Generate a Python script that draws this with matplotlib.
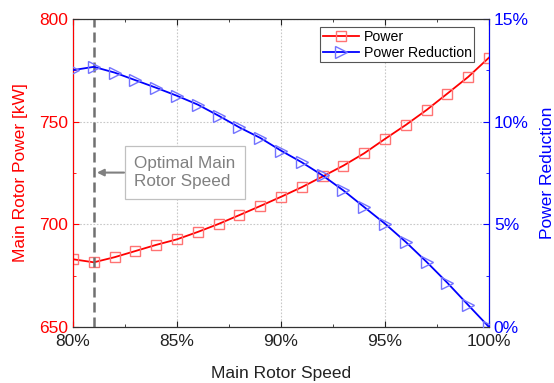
import matplotlib.pyplot as plt
from matplotlib.ticker import MultipleLocator, FuncFormatter

plt.rcParams['font.family'] = ['Liberation Sans', 'DejaVu Sans']

SPEED = list(range(80, 101))
POWER = [683.0, 681.5, 684.0, 687.0, 690.0, 692.7, 696.3, 700.2, 704.5, 708.9,
         713.4, 718.1, 723.3, 728.6, 734.6, 741.6, 748.4, 755.7, 763.7, 771.8, 781.2]
REDUCTION = [12.51, 12.67, 12.39, 12.02, 11.65, 11.26, 10.83, 10.29, 9.72, 9.21,
             8.59, 8.02, 7.38, 6.65, 5.84, 5.03, 4.14, 3.17, 2.15, 1.07, 0.0]
OPTIMAL = 81

RED = '#ff0000'
BLUE = '#0000ff'
FS = 12.5


def pct(v, _):
    return '%d%%' % v


fig = plt.figure(figsize=(5.54, 3.83), dpi=100)
ax = fig.add_axes([73 / 554, 1 - 327 / 383, 416 / 554, 308 / 383])
ax2 = ax.twinx()

l1, = ax.plot(SPEED, POWER, color=RED, lw=1.3, marker='s', ms=7,
              mfc='none', mec=(1, 0.45, 0.45), mew=1.0, label='Power', zorder=3)
l2, = ax2.plot(SPEED, REDUCTION, color=BLUE, lw=1.3, marker='>', ms=8,
               mfc='none', mec=(0.45, 0.45, 1), mew=1.0, label='Power Reduction', zorder=3)

ax.axvline(OPTIMAL, color='#707070', lw=1.8, ls=(0, (4, 2)), zorder=4)

ax.set_xlim(80, 100)
ax.set_ylim(650, 800)
ax2.set_ylim(0, 15)

ax.xaxis.set_major_locator(MultipleLocator(5))
ax.xaxis.set_minor_locator(MultipleLocator(2.5))
ax.xaxis.set_major_formatter(FuncFormatter(pct))
ax.yaxis.set_major_locator(MultipleLocator(50))
ax.yaxis.set_minor_locator(MultipleLocator(25))
ax2.yaxis.set_major_locator(MultipleLocator(5))
ax2.yaxis.set_minor_locator(MultipleLocator(2.5))
ax2.yaxis.set_major_formatter(FuncFormatter(pct))

ax.grid(True, which='major', color='#c8c8c8', ls=(0, (1.5, 1.5)), lw=0.8)

ax.tick_params(axis='x', which='both', direction='in', top=True, colors='#222222',
               labelsize=FS, pad=5)
ax.tick_params(axis='x', which='major', length=4)
ax.tick_params(axis='x', which='minor', length=2.5)
ax.tick_params(axis='y', which='both', direction='in', colors=RED, labelsize=FS)
ax.tick_params(axis='y', which='major', length=4)
ax.tick_params(axis='y', which='minor', length=2.5)
ax2.tick_params(axis='y', which='both', direction='in', colors=BLUE, labelsize=FS)
ax2.tick_params(axis='y', which='major', length=4)
ax2.tick_params(axis='y', which='minor', length=2.5)

ax2.spines['left'].set_color(RED)
ax2.spines['right'].set_color(BLUE)
ax2.spines['top'].set_color('#333333')
ax2.spines['bottom'].set_color('#333333')

ax.set_xlabel('Main Rotor Speed', fontsize=FS, color='#222222', labelpad=12)
ax.set_ylabel('Main Rotor Power [kW]', fontsize=FS, color=RED, labelpad=8)
ax2.set_ylabel('Power Reduction', fontsize=FS, color=BLUE, labelpad=8)

ax.annotate('Optimal Main\nRotor Speed', xy=(OPTIMAL + 0.15, 725.2), xytext=(82.93, 725.2),
            fontsize=12.3, color='#808080', va='center', ha='left', linespacing=1.3,
            bbox=dict(boxstyle='square,pad=0.55', fc='white', ec='#c0c0c0', lw=0.9),
            arrowprops=dict(arrowstyle='-|>', color='#808080', lw=1.5, mutation_scale=10,
                            shrinkA=0, shrinkB=0),
            zorder=5)

leg = ax2.legend([l1, l2], ['Power', 'Power Reduction'], loc='upper right',
                 bbox_to_anchor=(0.965, 0.975), fontsize=10.2, fancybox=False,
                 edgecolor='#555555', framealpha=1, handlelength=2.6,
                 borderpad=0.2, labelspacing=0.15, handletextpad=0.3, borderaxespad=0)
leg.get_frame().set_linewidth(0.8)

fig.savefig('out.png', dpi=100)
